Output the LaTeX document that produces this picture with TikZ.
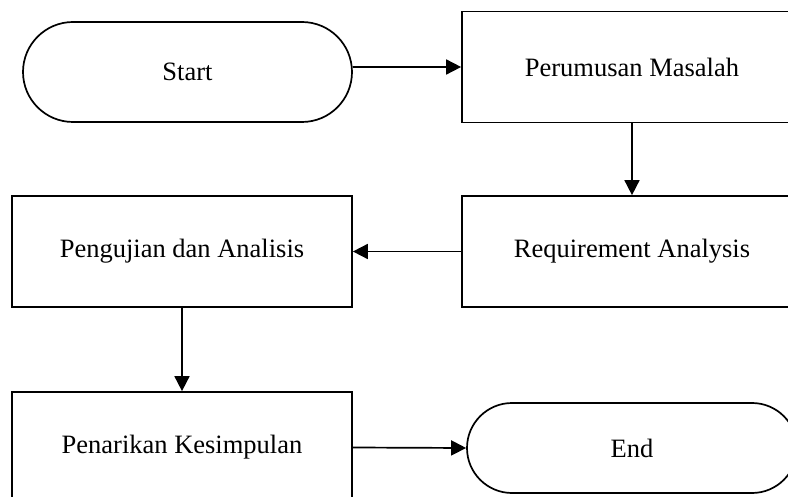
\documentclass[tikz,border=0pt]{standalone}
\usepackage{fontspec}
\setmainfont{Liberation Serif}
\usetikzlibrary{arrows.meta}
\begin{document}
\begin{tikzpicture}[x=1pt,y=-1pt,
  box/.style={draw,line width=1.7pt,minimum width=340pt,minimum height=111pt,inner sep=0pt,font=\fontsize{26.5}{30}\selectfont},
  termA/.style={draw,line width=1.7pt,minimum width=329pt,minimum height=100pt,rounded corners=50pt,inner sep=0pt,font=\fontsize{26.5}{30}\selectfont},
  termB/.style={draw,line width=1.7pt,minimum width=330pt,minimum height=90pt,rounded corners=45pt,inner sep=0pt,font=\fontsize{26.5}{30}\selectfont},
  conn/.style={line width=1.7pt,-{Triangle[length=15pt,width=15pt]}}]
\useasboundingbox (0,0) rectangle (788,497);
\clip (0,0) rectangle (788,497);
\node[termA] (start) at (187.5,72) {Start};
\node[box] (perum) at (632,67) {Perumusan Masalah};
\node[box] (req) at (632,251.5) {Requirement Analysis};
\node[box] (uji) at (182,251.5) {Pengujian dan Analisis};
\node[box] (tarik) at (182,447.5) {Penarikan Kesimpulan};
\node[termB] (end) at (632,448) {End};
\draw[conn] (perum.west -| start.east) -- (perum.west);
\draw[conn] (perum.south) -- (req.north);
\draw[conn] (req.west) -- (uji.east);
\draw[conn] (uji.south) -- (tarik.north);
\draw[conn] (tarik.east) -- (end.west);
\end{tikzpicture}
\end{document}
